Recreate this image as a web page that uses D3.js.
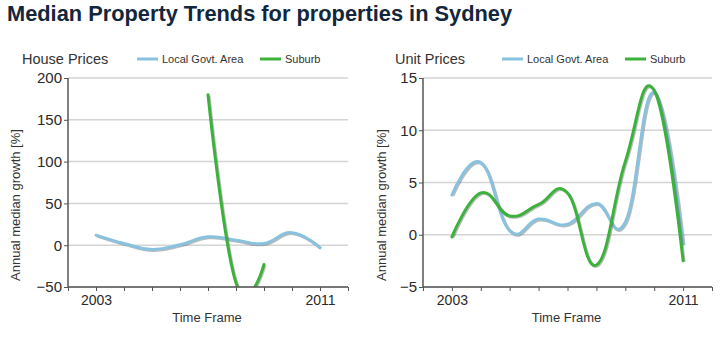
<!DOCTYPE html>
<html>
<head>
<meta charset="utf-8">
<script src="https://cdn.jsdelivr.net/npm/d3@7"></script>
<style>
  body { margin: 0; background: #fff; }
  text { font-family: "Liberation Sans", Arial, sans-serif; }
</style>
</head>
<body>
<script>
// data
const years = [2003, 2004, 2005, 2006, 2007, 2008, 2009, 2010, 2011]
const seriesNames = ['Local Govt. Area', 'Suburb']

const houseLga = [12, 2, -5, 0.5, 10, 6, 2, 15, -3]
const houseSuburb = [null, null, null, null, 180, -45, -23, null, null]

const unitLga = [3.8, 6.9, 0.4, 1.5, 1.0, 3.0, 1.2, 13.6, -0.9]
const unitSuburb = [-0.2, 4.0, 1.8, 2.9, 4.0, -2.9, 7.0, 13.8, -2.5]

const houseTicks = [-50, 0, 50, 100, 150, 200]
const unitTicks = [-5, 0, 5, 10, 15]
const xLabels = [2003, 2011]

const width = 723
const height = 340
const colors = ['#88c2de', '#3cb23c']

const svg = d3.select('body')
  .append('svg')
  .attr('width', width)
  .attr('height', height)

// Title
svg.append('text')
  .attr('x', 7)
  .attr('y', 21)
  .style('font-size', '21.8px')
  .style('font-weight', 'bold')
  .style('fill', '#13263c')
  .text('Median Property Trends for properties in Sydney')

function drawPanel(opts) {
  const g = svg.append('g')

  const x = d3.scaleLinear()
    .domain([2002, 2012])
    .range([opts.left, opts.right])

  const y = d3.scaleLinear()
    .domain(opts.yDomain)
    .range([287, 78])

  // gridlines
  g.selectAll('.grid')
    .data(opts.yTicks)
    .enter()
    .append('line')
    .attr('x1', opts.left)
    .attr('x2', opts.right)
    .attr('y1', d => y(d))
    .attr('y2', d => y(d))
    .style('stroke', '#d4d4d4')
    .style('stroke-width', 1.5)

  // clip to plot area
  const clipId = 'clip' + opts.id
  svg.append('clipPath')
    .attr('id', clipId)
    .append('rect')
    .attr('x', opts.left)
    .attr('y', 70)
    .attr('width', opts.right - opts.left)
    .attr('height', 287 - 70)

  const curve = d3.curveCardinal.tension(-0.3)

  opts.series.forEach((values, i) => {
    const pts = years.map((yr, j) => ({ year: yr, v: values[j] }))
    const line = d3.line()
      .defined(d => d.v !== null)
      .x(d => x(d.year))
      .y(d => y(d.v))
      .curve(curve)

    const lg = g.append('g').attr('clip-path', `url(#${clipId})`)
    // shadow
    lg.append('path')
      .attr('d', line(pts))
      .attr('transform', 'translate(1,1)')
      .style('fill', 'none')
      .style('stroke', 'rgba(60,60,60,0.35)')
      .style('stroke-width', 3)
    lg.append('path')
      .attr('d', line(pts))
      .style('fill', 'none')
      .style('stroke', colors[i])
      .style('stroke-width', 3)
      .style('stroke-linecap', 'round')
  })

  // Y axis
  const yAxis = g.append('g')
    .attr('transform', `translate(${opts.left},0)`)
    .call(d3.axisLeft(y).tickValues(opts.yTicks).tickSize(4).tickPadding(2))
  yAxis.select('.domain').style('stroke', '#555').style('stroke-width', 1.5)
    .attr('d', `M0,78V287`)
  yAxis.selectAll('.tick line').style('stroke', '#555')
  yAxis.selectAll('.tick text')
    .style('font-size', '15px')
    .style('fill', '#2a2a2a')
    .style('font-family', '"Liberation Sans", Arial, sans-serif')

  // X axis
  const xAxis = g.append('g')
    .attr('transform', 'translate(0,287)')
    .call(d3.axisBottom(x).ticks(10).tickFormat(d => xLabels.includes(d) ? d : '').tickSize(4).tickPadding(4))
  xAxis.select('.domain').style('stroke', '#555').style('stroke-width', 1.5)
    .attr('d', `M${opts.left},0H${opts.right}`)
  xAxis.selectAll('.tick line').style('stroke', '#555')
  xAxis.selectAll('.tick text')
    .style('font-size', '14px')
    .style('fill', '#2a2a2a')
    .style('font-family', '"Liberation Sans", Arial, sans-serif')

  // axis titles
  g.append('text')
    .attr('x', (opts.left + opts.right) / 2 - 1)
    .attr('y', 322)
    .attr('text-anchor', 'middle')
    .style('font-size', '13px')
    .style('fill', '#333')
    .text('Time Frame')

  g.append('text')
    .attr('transform', `translate(${opts.yLabelX},205) rotate(-90)`)
    .attr('text-anchor', 'middle')
    .style('font-size', '13px')
    .style('fill', '#333')
    .text('Annual median growth [%]')

  // panel title
  g.append('text')
    .attr('x', opts.titleX)
    .attr('y', 64)
    .style('font-size', '14.5px')
    .style('fill', '#333')
    .text(opts.title)

  // Legend
  opts.legendX.forEach((lx, i) => {
    g.append('line')
      .attr('x1', lx)
      .attr('x2', lx + 21)
      .attr('y1', 59)
      .attr('y2', 59)
      .style('stroke', colors[i])
      .style('stroke-width', 3)
    g.append('text')
      .attr('x', lx + 25)
      .attr('y', 63)
      .style('font-size', '11px')
      .style('fill', '#333')
      .text(seriesNames[i])
  })
}

drawPanel({
  id: 'house',
  left: 68,
  right: 348,
  yDomain: [-50, 200],
  yTicks: houseTicks,
  series: [houseLga, houseSuburb],
  title: 'House Prices',
  titleX: 22,
  yLabelX: 20,
  legendX: [137, 260]
})

drawPanel({
  id: 'unit',
  left: 423,
  right: 712,
  yDomain: [-5, 15],
  yTicks: unitTicks,
  series: [unitLga, unitSuburb],
  title: 'Unit Prices',
  titleX: 395,
  yLabelX: 386,
  legendX: [502, 625]
})
</script>
</body>
</html>
